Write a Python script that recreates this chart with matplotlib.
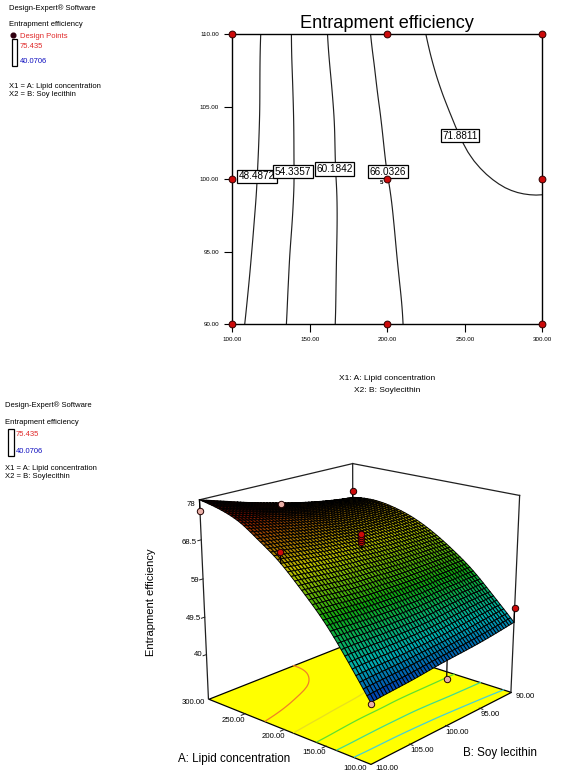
import numpy as np
import matplotlib
matplotlib.use("Agg")
import matplotlib.pyplot as plt
from matplotlib.colors import LinearSegmentedColormap
from matplotlib.tri import Triangulation, CubicTriInterpolator
from mpl_toolkits.mplot3d.art3d import Poly3DCollection

plt.rcParams['font.family'] = ['Liberation Sans', 'DejaVu Sans']

W, H = 567, 784
# Response values at coarse nodes (contour crossings and surface edges).
# The reference surface is a continuous model with thousands of cells that cannot be read
# one by one: matplotlib's CubicTriInterpolator only renders a dense mesh through these readings.
A_GRID = [100, 125, 150, 175, 200, 225, 250, 275, 300]
B_GRID = [90, 95, 100, 105, 110]
Z_90 = [46.7, 52.2, 57.4, 61.5, 64.9, 67.4, 68.9, 69.5, 69.0]
Z_95 = [45.4, 51.5, 57.0, 61.5, 65.3, 67.9, 69.6, 70.5, 70.3]
Z_100 = [44.6, 50.7, 56.7, 61.7, 65.95, 68.9, 71.0, 72.1, 72.4]
Z_105 = [43.6, 50.5, 56.9, 62.2, 66.9, 70.3, 73.0, 74.4, 75.0]
Z_110 = [42.8, 50.5, 57.5, 63.1, 68.1, 71.9, 75.2, 77.0, 78.0]

LEVELS = [48.4872, 54.3357, 60.1842, 66.0326, 71.8811]
LEVEL_LABEL_A = [116, 139, 166, 200.5, 247]
LEVEL_LABEL_B = [100.2, 100.5, 100.7, 100.5, 103.0]
LEVEL_COLORS = ['#45d0d8', '#40dc90', '#5fe030', '#e8e020', '#f08028']

DP_A = [100, 100, 100, 200, 200, 200, 200, 200, 200, 200, 300, 300, 300]
DP_B = [90, 100, 110, 90, 100, 100, 100, 100, 100, 110, 90, 100, 110]
DP_Z = [50.3, 40.07, 42.4, 63.5, 67.4, 67.9, 68.4, 68.9, 69.4, 70.7, 70.8, 72.2, 75.435]

A_TICKS = [100, 150, 200, 250, 300]
B_TICKS = [90, 95, 100, 105, 110]
Z_TICKS = [40, 49.5, 59, 68.5, 78]
Z_FLOOR = 28.5


def fx(x):
    return x / W


def fy(y):
    return 1 - y / H


fig = plt.figure(figsize=(W / 100, H / 100), dpi=100)

# ---- dense rendering mesh through the table values
table = np.array([Z_90, Z_95, Z_100, Z_105, Z_110])
ga, gb = np.meshgrid(A_GRID, B_GRID)
tri = Triangulation((ga.ravel() - 100) / 200, (gb.ravel() - 90) / 20)
interp = CubicTriInterpolator(tri, table.ravel(), kind='min_E')
aa, bb = np.meshgrid(np.linspace(100, 300, 51), np.linspace(90, 110, 51))
zz = np.ma.filled(interp((aa - 100) / 200, (bb - 90) / 20), np.nan)

# ---- contour map
ax = fig.add_axes([fx(232.3), fy(324.3), (542.3 - 232.3) / W, (324.3 - 34) / H])
ax.contour(aa, bb, zz, levels=LEVELS, colors='#202020', linewidths=0.85, zorder=2)
ax.set_xlim(100, 300)
ax.set_ylim(90, 110)
ax.set_xticks(A_TICKS, [f'{v:.2f}' for v in A_TICKS])
ax.set_yticks(B_TICKS, [f'{v:.2f}' for v in B_TICKS])
ax.tick_params(axis='both', labelsize=4.5, width=0.8, length=6, pad=3.5)
for s in ax.spines.values():
    s.set_linewidth(1.0)
for lev, la, lb in zip(LEVELS, LEVEL_LABEL_A, LEVEL_LABEL_B):
    ax.text(la, lb, f'{lev:.4f}', fontsize=7.2, ha='center', va='center', zorder=3,
            bbox=dict(boxstyle='square,pad=0.16', fc='white', ec='black', lw=0.9))
pts = sorted(set(zip(DP_A, DP_B)))
ax.scatter([p[0] for p in pts], [p[1] for p in pts], s=24, c='#cc0a0a', edgecolors='#300000',
           linewidths=0.7, clip_on=False, zorder=5)
ax.text(196, 99.75, '5', fontsize=4.5, fontweight='bold', ha='center', va='center', zorder=6)
fig.text(fx(386.5), fy(24), 'Entrapment efficiency', fontsize=13.1, ha='center', va='center')
fig.text(fx(387), fy(378), 'X1: A: Lipid concentration', fontsize=6.0, ha='center', va='center')
fig.text(fx(387), fy(390), 'X2: B: Soylecithin', fontsize=6.0, ha='center', va='center')

# ---- 3D view
S, CX, CY = 364.0, 355.8, 179.8
ax3 = fig.add_axes([(CX - S / 2) / W, (CY - S / 2) / H, S / W, S / H], projection='3d', computed_zorder=False)
ax3.set_xlim(100, 300, view_margin=0)
ax3.set_ylim(90, 110, view_margin=0)
ax3.set_zlim(Z_FLOOR, 78, view_margin=0)
ax3.set_proj_type('persp', focal_length=0.6)
ax3.view_init(18.75, 131.75, 0)
ax3.set_box_aspect((1, 1, 0.947))
ax3.set_axis_off()
ax3.patch.set_visible(False)

# frame behind
LC = '#202020'
for seg in [((300, 300), (110, 90), (78, 78)), ((300, 100), (90, 90), (78, 78)),
            ((300, 300), (90, 90), (Z_FLOOR, 78))]:
    ax3.plot(*seg, color=LC, lw=0.9, zorder=1)
floor = [[(100, 90, Z_FLOOR), (300, 90, Z_FLOOR), (300, 110, Z_FLOOR), (100, 110, Z_FLOOR)]]
ax3.add_collection3d(Poly3DCollection(floor, facecolors='#ffff00', edgecolors='black', linewidths=0.9, zorder=1))
ax3.contour(aa, bb, zz, levels=LEVELS, colors=LEVEL_COLORS, linewidths=0.9, zdir='z', offset=Z_FLOOR, zorder=2)
# ticks on the frame edges
for v in A_TICKS[1:-1]:
    ax3.plot([v, v], [110, 110.5], [Z_FLOOR, Z_FLOOR], color=LC, lw=0.7, zorder=2)
for v in B_TICKS[1:-1]:
    ax3.plot([100, 96], [v, v], [Z_FLOOR, Z_FLOOR], color=LC, lw=0.7, zorder=2)
for v in Z_TICKS[:-1]:
    ax3.plot([300, 300], [110, 110.4], [v, v], color=LC, lw=0.7, zorder=2)

cmap = LinearSegmentedColormap.from_list('de', ['#0000b0', '#00b0b0', '#10a810', '#c0c000', '#8c1000'])
norm = plt.Normalize(40.07, 75.435)
pz = 0.25 * (zz[:-1, :-1] + zz[1:, :-1] + zz[:-1, 1:] + zz[1:, 1:])
ax3.plot_surface(aa, bb, zz, rstride=1, cstride=1, facecolors=cmap(norm(pz)), shade=False,
                 edgecolor='black', linewidth=0.68, zorder=3, antialiased=True)

for seg in [((300, 300), (110, 110), (Z_FLOOR, 78)), ((100, 100), (90, 90), (Z_FLOOR, 78))]:
    ax3.plot(*seg, color=LC, lw=0.9, zorder=4)
for da, db, dz in zip(DP_A, DP_B, DP_Z):
    if da == 200 and db == 90:
        continue
    i = np.argmin(np.abs(aa[0] - da))
    j = np.argmin(np.abs(bb[:, 0] - db))
    ax3.plot([da, da], [db, db], [dz, zz[j, i]], color='black', lw=0.9, zorder=5)
    below = dz < zz[j, i]
    ax3.plot([da], [db], [dz], 'o', ms=4.6, mfc='#eab0a8' if below else '#cc0a0a', mec='#200000', mew=0.7, zorder=6)

# ---- 3D labels
A_LAB_XY = [(355, 769), (314, 753), (273, 736), (233, 720), (193, 703)]
B_LAB_XY = [(525, 697), (490, 715), (457, 733), (422, 751), (387, 769)]
Z_LAB_XY = [(198, 655), (193, 618), (195, 581), (189, 543), (191, 505)]
for v, (x, y) in zip(A_TICKS, A_LAB_XY):
    fig.text(fx(x), fy(y), f'{v:.2f}', fontsize=5.6, ha='center', va='center')
for v, (x, y) in zip(B_TICKS, B_LAB_XY):
    fig.text(fx(x), fy(y), f'{v:.2f}', fontsize=5.6, ha='center', va='center')
for v, (x, y) in zip(Z_TICKS, Z_LAB_XY):
    fig.text(fx(x), fy(y), f'{v:g}', fontsize=5.6, ha='center', va='center')
fig.text(fx(234), fy(759), 'A: Lipid concentration', fontsize=8.4, ha='center', va='center')
fig.text(fx(500), fy(753), 'B: Soy lecithin', fontsize=8.4, ha='center', va='center')
fig.text(fx(151), fy(602), 'Entrapment efficiency', fontsize=8.0, rotation=90, ha='center', va='center')

# ---- side notes
fs = 5.5
RED, BLUE = '#e02828', '#1010c0'
fig.text(fx(9), fy(8), 'Design-Expert® Software', fontsize=fs, va='center')
fig.text(fx(9), fy(25), 'Entrapment efficiency', fontsize=fs, va='center')
fig.text(fx(20), fy(36.6), 'Design Points', fontsize=fs, color=RED, va='center')
fig.text(fx(20), fy(46), '75.435', fontsize=fs, color=RED, va='center')
fig.text(fx(20), fy(61.5), '40.0706', fontsize=fs, color=BLUE, va='center')
fig.text(fx(9), fy(86.5), 'X1 = A: Lipid concentration', fontsize=fs, va='center')
fig.text(fx(9), fy(94.5), 'X2 = B: Soy lecithin', fontsize=fs, va='center')
fig.text(fx(5), fy(405), 'Design-Expert® Software', fontsize=fs, va='center')
fig.text(fx(5), fy(423), 'Entrapment efficiency', fontsize=fs, va='center')
fig.text(fx(16), fy(434), '75.435', fontsize=fs, color=RED, va='center')
fig.text(fx(16), fy(451.5), '40.0706', fontsize=fs, color=BLUE, va='center')
fig.text(fx(5), fy(468), 'X1 = A: Lipid concentration', fontsize=fs, va='center')
fig.text(fx(5), fy(477), 'X2 = B: Soylecithin', fontsize=fs, va='center')
for x0, x1, y0, y1 in [(11.5, 16.5, 39.5, 65.5), (8, 13.5, 429, 456)]:
    fig.add_artist(plt.Rectangle((fx(x0), fy(y1)), (x1 - x0) / W, (y1 - y0) / H, transform=fig.transFigure,
                                 fc='white', ec='black', lw=0.9))
fig.add_artist(plt.Line2D([fx(13)], [fy(35)], marker='o', ms=3.4, color='#300010', transform=fig.transFigure))

fig.savefig('out.png', dpi=100)
